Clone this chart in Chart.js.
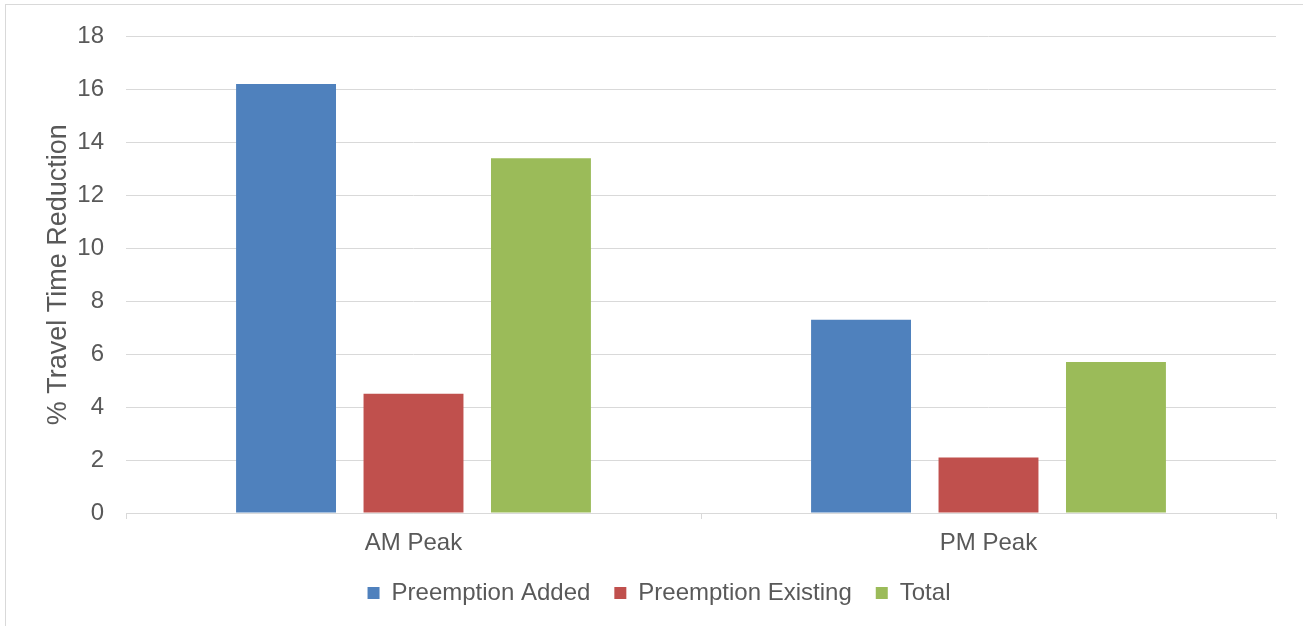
<!DOCTYPE html>
<html>
<head>
<meta charset="utf-8">
<script src="https://cdn.jsdelivr.net/npm/chart.js@4"></script>
<style>
  html, body { margin: 0; padding: 0; background: #fff; overflow: hidden; }
  #frame {
    position: absolute; left: 5px; top: 4px;
    width: 1320px; height: 640px;
    border: 1px solid #d9d9d9;
  }
  #travelChart { position: absolute; left: 0; top: 0; }
</style>
</head>
<body>
<div id="frame"></div>
<canvas id="travelChart" width="1303" height="626"></canvas>
<script>
// ----------------------------------------
// Datos
// ----------------------------------------
const periods = ['AM Peak', 'PM Peak'];
const preemptionAdded = [16.2, 7.3];
const preemptionExisting = [4.5, 2.1];
const totalReduction = [13.4, 5.7];
const yTicks = [0, 2, 4, 6, 8, 10, 12, 14, 16, 18];

// Colores estilo Excel
const textColor = '#595959';
const gridColor = '#d9d9d9';

Chart.defaults.font.family = '"Liberation Sans", Arial, sans-serif';
Chart.defaults.font.size = 24;
Chart.defaults.color = textColor;

function barSet(label, data, color) {
  return {
    label: label,
    data: data,
    backgroundColor: color,
    borderWidth: 0,
    categoryPercentage: 0.665,
    barPercentage: 0.784
  };
}

const ctx = document.getElementById('travelChart').getContext('2d');
const travelChart = new Chart(ctx, {
  type: 'bar',
  data: {
    labels: periods,
    datasets: [
      barSet('Preemption Added', preemptionAdded, '#4f81bd'),
      barSet('Preemption Existing', preemptionExisting, '#c0504d'),
      barSet('Total', totalReduction, '#9bbb59')
    ]
  },
  options: {
    responsive: false,
    animation: false,
    devicePixelRatio: 1,
    layout: { padding: { left: 42, right: 27, top: 30, bottom: 11 } },
    scales: {
      x: {
        grid: {
          color: gridColor,
          drawOnChartArea: false,
          drawTicks: true,
          tickLength: 6
        },
        border: { display: true, color: gridColor, width: 1 },
        ticks: { color: textColor, padding: 10, font: { size: 24 } },
        afterFit: scale => { scale.height = 44; }
      },
      y: {
        min: 0,
        max: 18,
        afterBuildTicks: scale => {
          scale.ticks = yTicks.map(v => ({ value: v }));
        },
        grid: { color: gridColor, drawTicks: false },
        border: { display: false },
        ticks: { color: textColor, padding: 22, font: { size: 24 } },
        title: {
          display: true,
          text: '% Travel Time Reduction',
          color: textColor,
          font: { size: 27 },
          padding: 0
        },
        afterFit: scale => { scale.width = 84; }
      }
    },
    plugins: {
      legend: {
        position: 'bottom',
        labels: {
          boxWidth: 12,
          boxHeight: 12,
          padding: 24,
          color: textColor,
          font: { size: 24 }
        }
      },
      tooltip: { enabled: false }
    }
  }
});
</script>
</body>
</html>
